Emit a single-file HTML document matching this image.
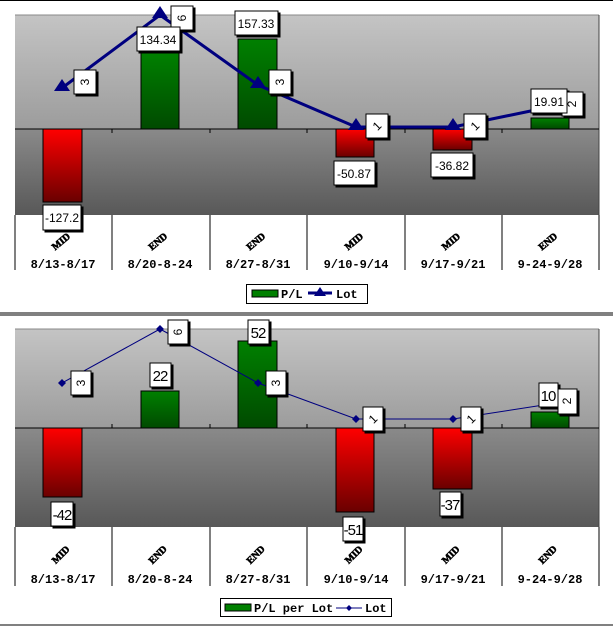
<!DOCTYPE html>
<html><head><meta charset="utf-8"><style>
html,body{margin:0;padding:0;background:#fff;width:613px;height:628px;overflow:hidden}
svg{display:block}
.d{font:bold 12px "Liberation Mono",monospace;fill:#000}
.t{font:900 10px "Liberation Serif",serif;fill:#000;stroke:#000;stroke-width:0.6}
.v{font:12px "Liberation Sans",sans-serif;fill:#000}
.vb{font:15px "Liberation Sans",sans-serif;fill:#000;letter-spacing:-1px}
.l{font:bold 12px "Liberation Mono",monospace;fill:#000}
</style></head><body>
<svg width="613" height="628" viewBox="0 0 613 628">
<defs>
<linearGradient id="up" x1="0" y1="0" x2="0" y2="1"><stop offset="0" stop-color="#c4c4c4"/><stop offset="1" stop-color="#9c9c9c"/></linearGradient>
<linearGradient id="dn" x1="0" y1="0" x2="0" y2="1"><stop offset="0" stop-color="#8a8a8a"/><stop offset="1" stop-color="#585858"/></linearGradient>
<linearGradient id="gr" x1="0" y1="0" x2="0" y2="1"><stop offset="0" stop-color="#008000"/><stop offset="1" stop-color="#004a00"/></linearGradient>
<linearGradient id="rd" x1="0" y1="0" x2="0" y2="1"><stop offset="0" stop-color="#ff0000"/><stop offset="1" stop-color="#6a0000"/></linearGradient>
<filter id="sh"><feDropShadow dx="2" dy="2" stdDeviation="0" flood-color="#000"/></filter>
</defs>
<line x1="0" y1="0.5" x2="613" y2="0.5" stroke="#000"/>
<!-- TOP CHART -->
<rect x="15" y="15" width="584" height="114" fill="url(#up)"/>
<rect x="15" y="129" width="584" height="86" fill="url(#dn)"/>
<line x1="15" y1="15" x2="599" y2="15" stroke="#888"/>
<line x1="599" y1="15" x2="599" y2="215" stroke="#444"/>
<line x1="15" y1="129" x2="599" y2="129" stroke="#000"/>
<g stroke="#000" fill="none">
<path d="M15 215V270M112 215V270M210 215V270M307 215V270M405 215V270M502 215V270M599 215V270"/>
<path d="M112 129v4M210 129v4M307 129v4M405 129v4M502 129v4"/>
</g>
<g stroke="#000" stroke-width="1">
<rect x="43" y="129" width="39" height="73" fill="url(#rd)"/>
<rect x="141" y="53" width="38" height="76" fill="url(#gr)"/>
<rect x="238" y="39" width="39" height="90" fill="url(#gr)"/>
<rect x="336" y="129" width="38" height="28" fill="url(#rd)"/>
<rect x="433" y="129" width="39" height="21" fill="url(#rd)"/>
<rect x="531" y="118" width="38" height="11" fill="url(#gr)"/>
</g>
<polyline points="62,88 160,15 258,85 356,127 453,127 550,107" fill="none" stroke="#00007f" stroke-width="3"/>
<g fill="#00007f">
<path d="M62,79 l-8,12 h16z"/><path d="M160,6 l-8,12 h16z"/><path d="M258,76 l-8,12 h16z"/><path d="M356,118 l-8,12 h16z"/><path d="M453,118 l-8,12 h16z"/>
</g>
<g fill="#fff" stroke="#000" filter="url(#sh)">
<rect x="74" y="70" width="22" height="24"/><rect x="171" y="6" width="22" height="24"/><rect x="269" y="70" width="22" height="24"/><rect x="366" y="114" width="22" height="24"/><rect x="464" y="114" width="22" height="24"/><rect x="562" y="92" width="21" height="24"/>
<rect x="43" y="205" width="38" height="25"/><rect x="137" y="27" width="43" height="24"/><rect x="235" y="11" width="43" height="24"/><rect x="334" y="161" width="41" height="24"/><rect x="431" y="153" width="42" height="24"/><rect x="531" y="89" width="36" height="24"/>
</g>
<g class="v" text-anchor="middle">
<text x="85" y="86" transform="rotate(-90 85 82)">3</text><text x="182" y="22" transform="rotate(-90 182 18)">6</text><text x="280" y="86" transform="rotate(-90 280 82)">3</text><text x="377" y="130" transform="rotate(-45 377 126)">1</text><text x="475" y="130" transform="rotate(-45 475 126)">1</text><text x="572" y="108" transform="rotate(-90 572 104)">2</text>
<text x="62" y="222">-127.2</text><text x="158" y="44">134.34</text><text x="256" y="28">157.33</text><text x="354" y="178">-50.87</text><text x="452" y="170">-36.82</text><text x="549" y="106">19.91</text>
</g>
<g class="t" text-anchor="middle">
<text transform="translate(63,244) rotate(-40)">MID</text><text transform="translate(160,244) rotate(-40)">END</text><text transform="translate(258,244) rotate(-40)">END</text><text transform="translate(356,244) rotate(-40)">MID</text><text transform="translate(453,244) rotate(-40)">MID</text><text transform="translate(550,244) rotate(-40)">END</text>
</g>
<g class="d" text-anchor="middle">
<text x="63" y="268">8/13-8/17</text><text x="160" y="268">8/20-8-24</text><text x="258" y="268">8/27-8/31</text><text x="356" y="268">9/10-9/14</text><text x="453" y="268">9/17-9/21</text><text x="550" y="268">9-24-9/28</text>
</g>
<rect x="246.5" y="284.5" width="121" height="19" fill="#fff" stroke="#000"/>
<rect x="252" y="290" width="26" height="7" fill="#008000" stroke="#000"/>
<text class="l" x="281" y="298">P/L</text>
<line x1="308" y1="293" x2="332" y2="293" stroke="#00007f" stroke-width="3"/><path d="M320,287 l-6,9 h12z" fill="#00007f"/>
<text class="l" x="336" y="298">Lot</text>
<!-- separator -->
<line x1="0" y1="313" x2="613" y2="313" stroke="#000"/><line x1="0" y1="315" x2="613" y2="315" stroke="#000"/>
<!-- BOTTOM CHART -->
<rect x="15" y="329" width="584" height="99" fill="url(#up)"/>
<rect x="15" y="428" width="584" height="99" fill="url(#dn)"/>
<line x1="15" y1="329" x2="599" y2="329" stroke="#888"/>
<line x1="599" y1="329" x2="599" y2="527" stroke="#444"/>
<line x1="15" y1="428" x2="599" y2="428" stroke="#000"/>
<g stroke="#000" fill="none">
<path d="M15 527V586M112 527V586M210 527V586M307 527V586M405 527V586M502 527V586M599 527V586"/>
<path d="M112 428v-4M210 428v-4M307 428v-4M405 428v-4M502 428v-4"/>
</g>
<g stroke="#000">
<rect x="43" y="428" width="39" height="69" fill="url(#rd)"/>
<rect x="141" y="391" width="38" height="37" fill="url(#gr)"/>
<rect x="238" y="341" width="39" height="87" fill="url(#gr)"/>
<rect x="336" y="428" width="38" height="84" fill="url(#rd)"/>
<rect x="433" y="428" width="39" height="61" fill="url(#rd)"/>
<rect x="531" y="412" width="38" height="16" fill="url(#gr)"/>
</g>
<polyline points="62,383 160,329 258,383 356,419 453,419 550,404" fill="none" stroke="#00007f" stroke-width="1"/>
<g fill="#00007f">
<path d="M62,379 l4,4 -4,4 -4,-4z"/><path d="M160,325 l4,4 -4,4 -4,-4z"/><path d="M258,379 l4,4 -4,4 -4,-4z"/><path d="M356,415 l4,4 -4,4 -4,-4z"/><path d="M453,415 l4,4 -4,4 -4,-4z"/>
</g>
<g fill="#fff" stroke="#000" filter="url(#sh)">
<rect x="71" y="371" width="20" height="24"/><rect x="168" y="320" width="20" height="24"/><rect x="266" y="371" width="20" height="24"/><rect x="363" y="407" width="20" height="24"/><rect x="461" y="407" width="20" height="24"/><rect x="558" y="389" width="19" height="25"/>
<rect x="51" y="502" width="22" height="24"/><rect x="150" y="363" width="21" height="24"/><rect x="248" y="320" width="21" height="24"/><rect x="343" y="517" width="20" height="24"/><rect x="440" y="492" width="21" height="24"/><rect x="539" y="383" width="19" height="24"/>
</g>
<g class="v" text-anchor="middle">
<text x="81" y="387" transform="rotate(-90 81 383)">3</text><text x="178" y="336" transform="rotate(-90 178 332)">6</text><text x="276" y="387" transform="rotate(-90 276 383)">3</text><text x="373" y="423" transform="rotate(-45 373 419)">1</text><text x="471" y="423" transform="rotate(-45 471 419)">1</text><text x="567" y="405" transform="rotate(-90 567 401)">2</text>
</g>
<g class="vb" text-anchor="middle">
<text x="62" y="520">-42</text><text x="160" y="381">22</text><text x="258" y="338">52</text><text x="353" y="535">-51</text><text x="450" y="510">-37</text><text x="548" y="401">10</text>
</g>
<g class="t" text-anchor="middle">
<text transform="translate(63,557) rotate(-45)">MID</text><text transform="translate(160,557) rotate(-45)">END</text><text transform="translate(258,557) rotate(-45)">END</text><text transform="translate(356,557) rotate(-45)">MID</text><text transform="translate(453,557) rotate(-45)">MID</text><text transform="translate(550,557) rotate(-45)">END</text>
</g>
<g class="d" text-anchor="middle">
<text x="63" y="583">8/13-8/17</text><text x="160" y="583">8/20-8-24</text><text x="258" y="583">8/27-8/31</text><text x="356" y="583">9/10-9/14</text><text x="453" y="583">9/17-9/21</text><text x="550" y="583">9-24-9/28</text>
</g>
<rect x="220.5" y="598.5" width="171" height="18" fill="#fff" stroke="#000"/>
<rect x="225" y="604" width="26" height="7" fill="#008000" stroke="#000"/>
<text class="l" x="254" y="612">P/L per Lot</text>
<line x1="336" y1="608" x2="362" y2="608" stroke="#00007f"/><path d="M349,605 l3,3 -3,3 -3,-3z" fill="#00007f"/>
<text class="l" x="365" y="612">Lot</text>
<line x1="0" y1="625" x2="613" y2="625" stroke="#000"/>
</svg>
</body></html>
